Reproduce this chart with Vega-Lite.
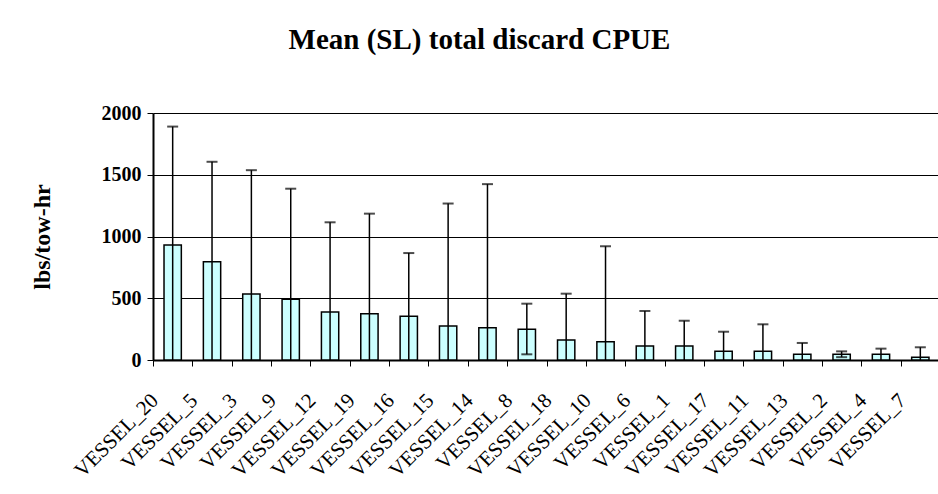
{
  "$schema": "https://vega.github.io/schema/vega-lite/v6.json",
  "autosize": "none",
  "width": 787,
  "height": 247,
  "padding": {"left": 153, "top": 113, "right": 0, "bottom": 134},
  "background": "white",
  "title": {
    "text": "Mean (SL) total discard CPUE",
    "font": "Liberation Serif",
    "fontSize": 29,
    "fontWeight": "bold",
    "color": "black",
    "anchor": "middle",
    "frame": "group",
    "dx": -67,
    "offset": 48
  },
  "data": {
    "values": [
      {"vessel": "VESSEL_20", "mean": 932, "lo": 0, "hi": 1890},
      {"vessel": "VESSEL_5", "mean": 795, "lo": 0, "hi": 1605},
      {"vessel": "VESSEL_3", "mean": 535, "lo": 0, "hi": 1537},
      {"vessel": "VESSEL_9", "mean": 491, "lo": 0, "hi": 1387},
      {"vessel": "VESSEL_12", "mean": 389, "lo": 0, "hi": 1115},
      {"vessel": "VESSEL_19", "mean": 375, "lo": 0, "hi": 1185},
      {"vessel": "VESSEL_16", "mean": 354, "lo": 0, "hi": 866},
      {"vessel": "VESSEL_15", "mean": 275, "lo": 0, "hi": 1267},
      {"vessel": "VESSEL_14", "mean": 262, "lo": 0, "hi": 1424},
      {"vessel": "VESSEL_8", "mean": 248, "lo": 46, "hi": 456},
      {"vessel": "VESSEL_18", "mean": 162, "lo": 0, "hi": 537},
      {"vessel": "VESSEL_10", "mean": 148, "lo": 0, "hi": 921},
      {"vessel": "VESSEL_6", "mean": 113, "lo": 0, "hi": 397},
      {"vessel": "VESSEL_1", "mean": 113, "lo": 0, "hi": 318},
      {"vessel": "VESSEL_17", "mean": 70, "lo": 0, "hi": 229},
      {"vessel": "VESSEL_11", "mean": 70, "lo": 0, "hi": 289},
      {"vessel": "VESSEL_13", "mean": 46, "lo": 0, "hi": 138},
      {"vessel": "VESSEL_2", "mean": 46, "lo": 23, "hi": 70},
      {"vessel": "VESSEL_4", "mean": 46, "lo": 0, "hi": 92},
      {"vessel": "VESSEL_7", "mean": 22, "lo": 0, "hi": 103}
    ]
  },
  "encoding": {
    "x": {
      "field": "vessel",
      "type": "nominal",
      "sort": null,
      "scale": {"paddingInner": 0, "paddingOuter": 0},
      "axis": {
        "title": null,
        "labelAngle": -45,
        "labelAlign": "right",
        "labelBaseline": "middle",
        "labelOffset": -18,
        "labelPadding": 31,
        "labelFont": "Liberation Serif",
        "labelFontSize": 21,
        "labelColor": "black",
        "tickBand": "extent",
        "tickSize": 6,
        "tickColor": "black",
        "tickWidth": 1,
        "domainColor": "black",
        "domainWidth": 2,
        "grid": false
      }
    }
  },
  "layer": [
    {
      "mark": {"type": "bar", "width": {"band": 0.44}, "fill": "#CCFFFF", "stroke": "black", "strokeWidth": 1.5},
      "encoding": {
        "y": {
          "field": "mean",
          "type": "quantitative",
          "scale": {"domain": [0, 2000], "nice": false},
          "axis": {
            "values": [0, 500, 1000, 1500, 2000],
            "format": "d",
            "title": "lbs/tow-hr",
            "titleFont": "Liberation Serif",
            "titleFontSize": 24,
            "titleFontWeight": "bold",
            "titleColor": "black",
            "titleX": -104,
            "titleBaseline": "alphabetic",
            "labelFont": "Liberation Serif",
            "labelFontSize": 20,
            "labelFontWeight": "bold",
            "labelColor": "black",
            "labelPadding": 6,
            "tickSize": 6,
            "tickColor": "black",
            "domainColor": "black",
            "domainWidth": 2,
            "grid": true,
            "gridColor": "black",
            "gridWidth": 1
          }
        }
      }
    },
    {
      "mark": {"type": "rule", "color": "black", "strokeWidth": 1.5},
      "encoding": {
        "y": {"field": "lo", "type": "quantitative"},
        "y2": {"field": "hi"}
      }
    },
    {
      "mark": {"type": "tick", "color": "black", "size": 11, "thickness": 2},
      "encoding": {
        "y": {"field": "hi", "type": "quantitative"}
      }
    },
    {
      "transform": [{"filter": "datum.lo > 0"}],
      "mark": {"type": "tick", "color": "black", "size": 11, "thickness": 2},
      "encoding": {
        "y": {"field": "lo", "type": "quantitative"}
      }
    }
  ],
  "config": {
    "view": {"stroke": null}
  }
}
